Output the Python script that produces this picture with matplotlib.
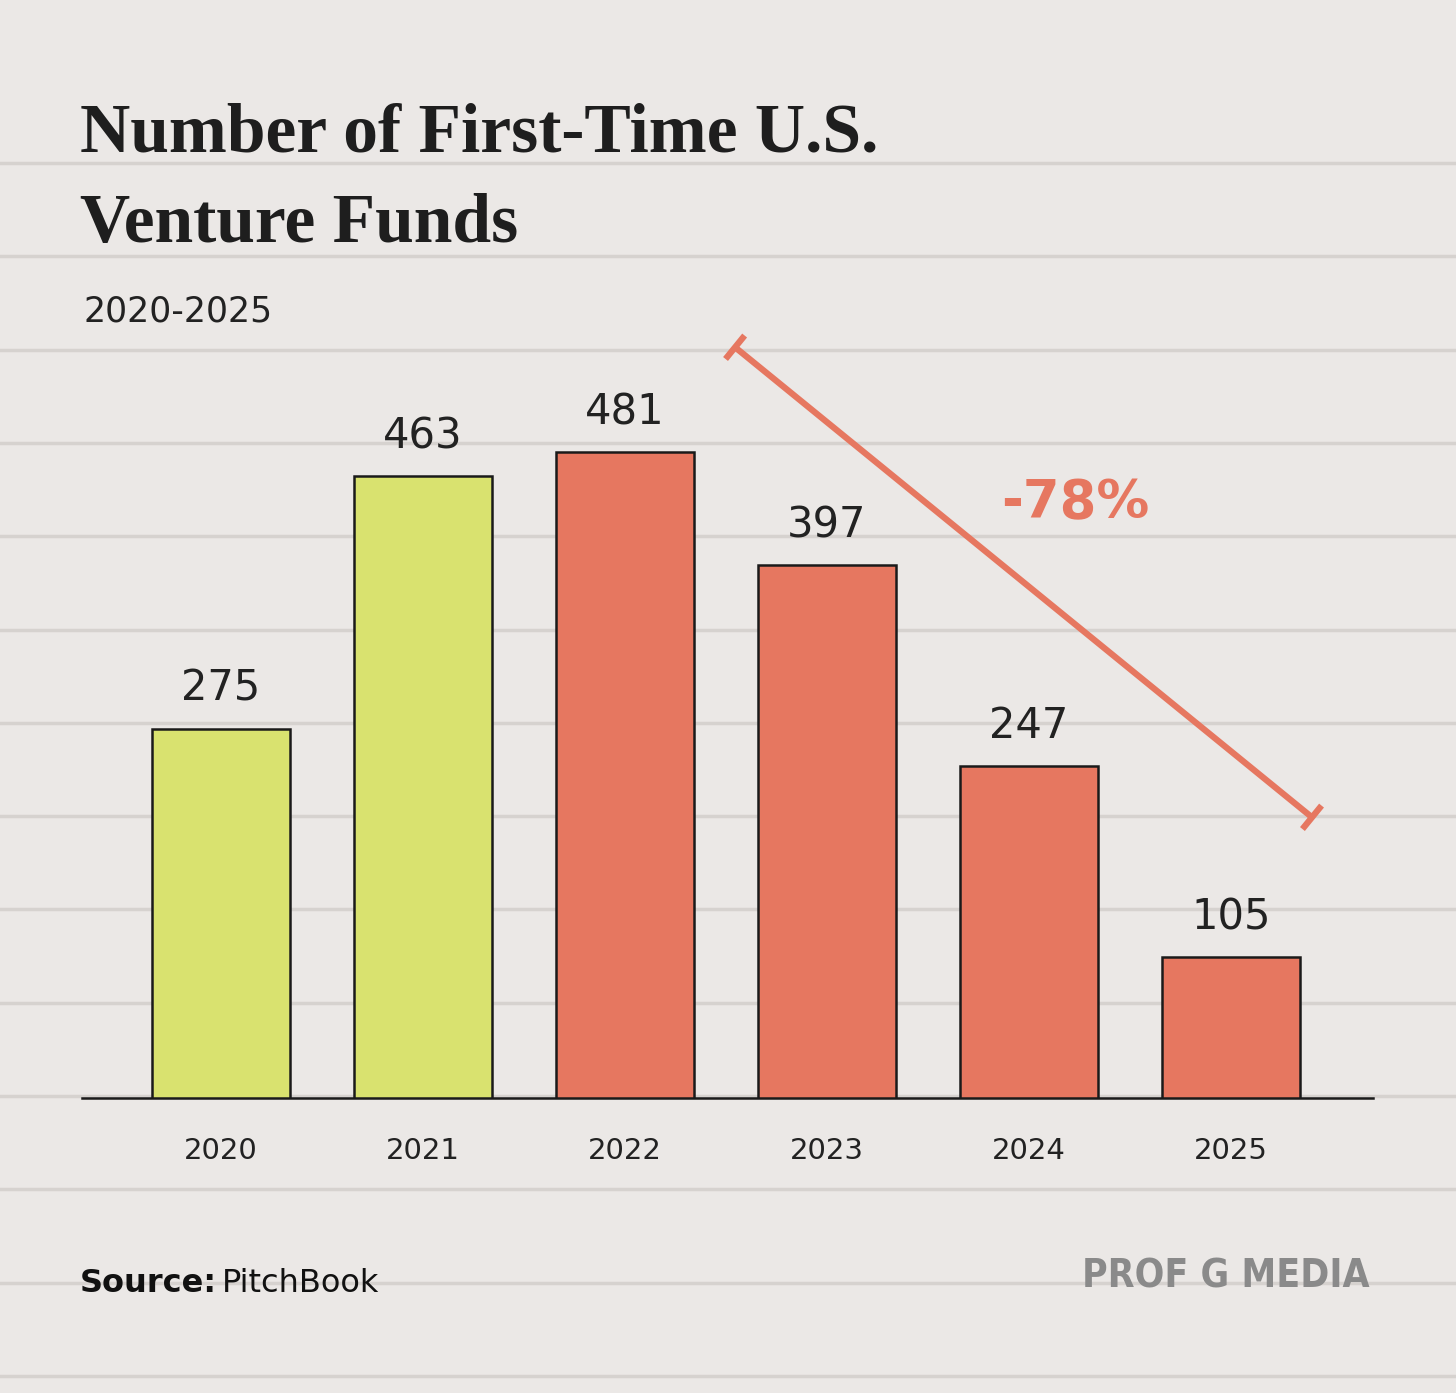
import numpy as np
import matplotlib.pyplot as plt
from matplotlib.lines import Line2D

years = ['2020', '2021', '2022', '2023', '2024', '2025']
funds = [275, 463, 481, 397, 247, 105]
colors = ['#d9e26f', '#d9e26f', '#e67760', '#e67760', '#e67760', '#e67760']

W, H = 1456, 1393
fig = plt.figure(figsize=(W / 100, H / 100), dpi=100)
fig.patch.set_facecolor('#ebe8e6')

# notebook lines on the background
for yp in np.arange(163, 1393, 93.3):
    fig.add_artist(Line2D([0, 1], [1 - yp / H] * 2, color='#d6d2cf', lw=2.5, zorder=0))

# axes in pixel placement
px_l, px_r, px_b, px_t = 82, 1373, 1098, 300
ax = fig.add_axes([px_l / W, 1 - px_b / H, (px_r - px_l) / W, (px_b - px_t) / H])
ax.set_facecolor('none')
x0, dx, ppu = 221, 202, 1.343
ax.set_xlim((px_l - x0) / dx, (px_r - x0) / dx)
ax.set_ylim(0, (px_b - px_t) / ppu)

x = np.arange(len(years))
ax.bar(x, funds, width=0.68, color=colors, edgecolor='#1a1a1a', linewidth=1.8, zorder=3)
for xi, v in zip(x, funds):
    ax.text(xi, v + 14, str(v), ha='center', va='bottom', fontsize=30, color='#222222')
ax.set_xticks(x, years, fontsize=21, color='#222222')
ax.tick_params(axis='x', length=0, pad=28)
ax.set_yticks([])
for s in ['left', 'right', 'top']:
    ax.spines[s].set_visible(False)
ax.spines['bottom'].set_linewidth(1.8)
ax.spines['bottom'].set_color('#1a1a1a')

# decline annotation
red = '#e67760'
xa, ya, xb, yb = 2.545, 559, 5.401, 209
ax.plot([xa, xb], [ya, yb], color=red, lw=4.5, clip_on=False, solid_capstyle='butt')
# perpendicular caps (in pixel space)
d = np.array([(xb - xa) * dx, (yb - ya) * ppu])
d = d / np.linalg.norm(d)
n = np.array([-d[1], d[0]]) * 12
for (cx, cy) in [(xa, ya), (xb, yb)]:
    ax.plot([cx - n[0] / dx, cx + n[0] / dx], [cy - n[1] / ppu, cy + n[1] / ppu],
            color=red, lw=4.5, clip_on=False)
ax.text(4.23, 443, '-78%', color=red, fontsize=38, fontweight='bold', ha='center', va='center')

# texts
fig.text(80 / W, 1 - 135 / H, 'Number of First-Time U.S.', fontsize=50, fontweight='bold',
         family='Liberation Serif', color='#1e1e1e', va='center')
fig.text(80 / W, 1 - 225 / H, 'Venture Funds', fontsize=50, fontweight='bold',
         family='Liberation Serif', color='#1e1e1e', va='center')
fig.text(84 / W, 1 - 312 / H, '2020-2025', fontsize=25, color='#222222', va='center')
fig.text(80 / W, 1 - 1283 / H, 'Source:', fontsize=23, fontweight='bold', color='#111111', va='center')
fig.text(222 / W, 1 - 1283 / H, 'PitchBook', fontsize=23, color='#111111', va='center')
fig.text(1370 / W, 1 - 1276 / H, 'PROF G MEDIA', fontsize=28, fontweight='bold', color='#8a8a8a',
         ha='right', va='center', fontstretch='condensed', family='Liberation Sans Narrow')

plt.savefig('out.png', dpi=100, facecolor=fig.get_facecolor())
